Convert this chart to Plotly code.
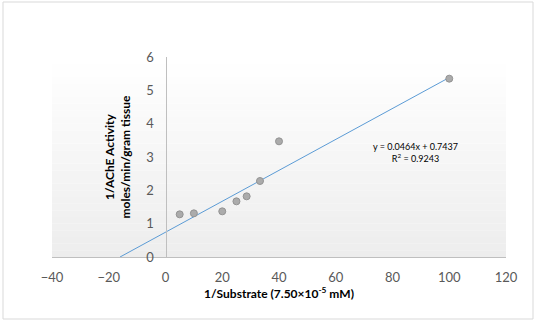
import numpy as np
import plotly.graph_objects as go

# Data
inv_substrate = [5, 10, 20, 25, 28.6, 33.3, 40, 100]
inv_activity = [1.28, 1.31, 1.37, 1.67, 1.82, 2.28, 3.47, 5.35]
slope = 0.0464
intercept = 0.7437
r_squared = 0.9243
x_ticks = [-40, -20, 0, 20, 40, 60, 80, 100, 120]
y_ticks = [0, 1, 2, 3, 4, 5, 6]

W, H = 537, 324
L, R, T, B = 52, 31, 57, 67
pw, ph = W - L - R, H - T - B

fig = go.Figure()

# trendline (forecast backward to y=0)
x_start = -intercept / slope
trend_x = [x_start, max(inv_substrate)]
trend_y = [slope * x + intercept for x in trend_x]
fig.add_trace(go.Scatter(x=trend_x, y=trend_y, mode="lines",
                         line=dict(color="#5B9BD5", width=1), hoverinfo="skip"))
fig.add_trace(go.Scatter(x=inv_substrate, y=inv_activity, mode="markers",
                         marker=dict(size=7, color="#ABABAB",
                                     line=dict(color="#939393", width=1))))

shapes = []
# subtle plot-area gradient (white top -> light gray bottom)
n = 30
for i in range(n):
    y0 = i / n
    y1 = (i + 1) / n
    g = int(round(237 + (255 - 237) * (y0 + 0.5 / n)))
    shapes.append(dict(type="rect", xref="paper", yref="paper", x0=0, x1=1,
                       y0=y0, y1=y1, fillcolor=f"rgb({g},{g},{g})",
                       line=dict(width=0), layer="below"))
# chart outer border
shapes.append(dict(type="rect", xref="paper", yref="paper",
                   x0=(3 - L) / pw, x1=(533 - L) / pw,
                   y0=(H - B - 319) / ph, y1=(H - B - 2) / ph,
                   line=dict(color="#D9D9D9", width=1), fillcolor="rgba(0,0,0,0)",
                   layer="below"))

fig.update_layout(
    width=W, height=H,
    margin=dict(l=L, r=R, t=T, b=B),
    paper_bgcolor="white", plot_bgcolor="rgba(0,0,0,0)",
    showlegend=False,
    font=dict(family="Lato, Open Sans, sans-serif", color="#595959", size=13),
    shapes=shapes,
    xaxis=dict(range=[-40, 120], tickvals=x_ticks, showgrid=False, zeroline=False,
               showline=True, linecolor="#BFBFBF", linewidth=1,
               ticks="", ticklabelstandoff=8,
               title=dict(text="<b>1/Substrate (7.50×10<sup>-5</sup> mM)</b>",
                          font=dict(size=12, color="#000000"), standoff=6)),
    yaxis=dict(range=[0, 6], tickvals=y_ticks, showgrid=False, zeroline=False,
               showline=True, linecolor="#BFBFBF", linewidth=1,
               anchor="free", position=40 / 160, ticks="", ticklabelstandoff=9,
               title=dict(text="<b>1/AChE Activity<br>moles/min/gram tissue</b>",
                          font=dict(size=12, color="#000000"), standoff=12)),
    annotations=[dict(x=88, y=3.15, xref="x", yref="y", showarrow=False,
                      text=f"y = {slope}x + {intercept}<br>R<sup>2</sup> = {r_squared}",
                      font=dict(size=9, color="#000000"), align="center")],
)

fig.write_html("out.html")
